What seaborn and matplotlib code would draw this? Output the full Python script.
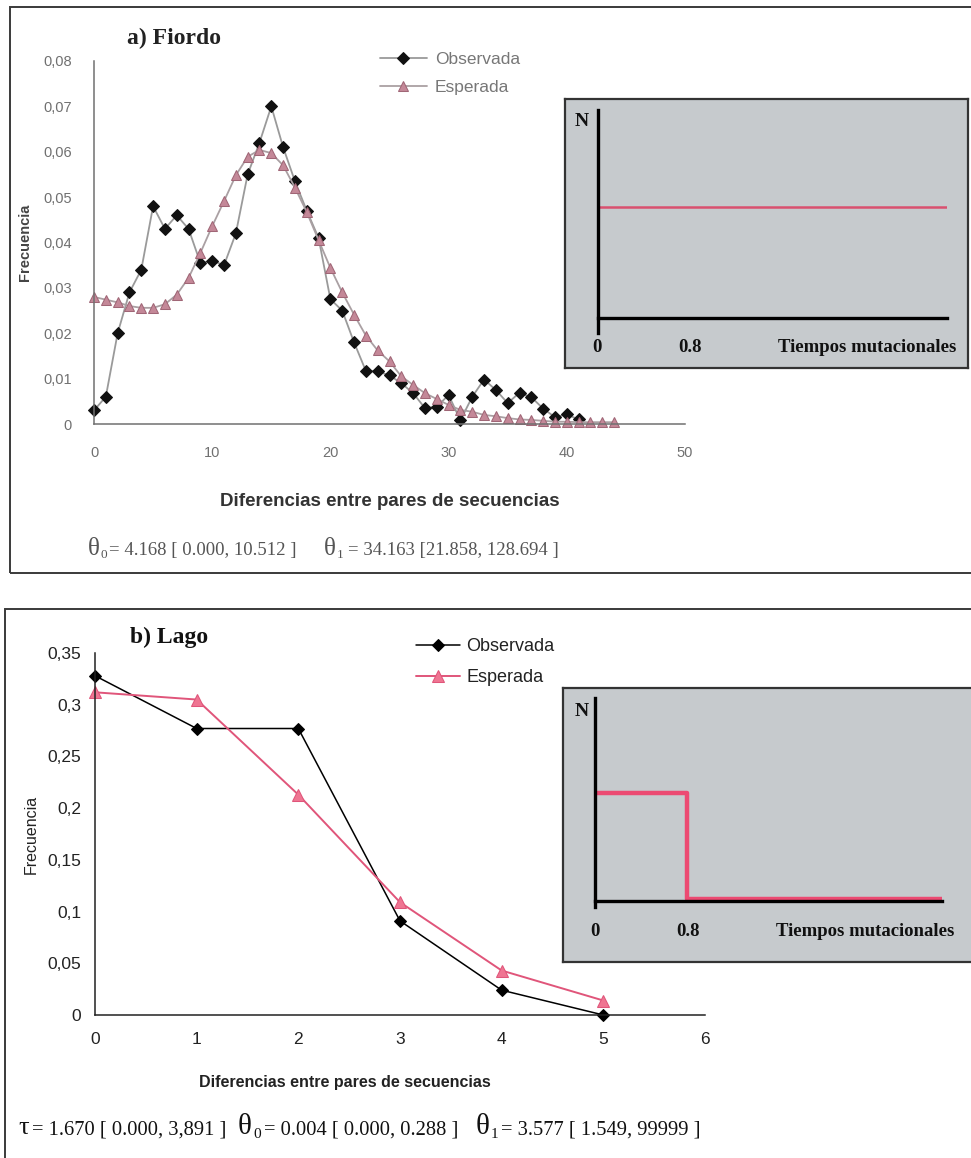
import matplotlib
matplotlib.use("Agg")
import matplotlib.pyplot as plt
from matplotlib.patches import Rectangle
import pandas as pd
import seaborn as sns

# ---- a) Fiordo: mismatch distribution ----
fiordo_obs_x = list(range(0, 42))
fiordo_obs = [0.003, 0.006, 0.020, 0.029, 0.034, 0.048, 0.043, 0.046, 0.043, 0.0355,
              0.036, 0.035, 0.042, 0.055, 0.062, 0.070, 0.061, 0.0535, 0.047, 0.041,
              0.0275, 0.025, 0.018, 0.0117, 0.0116, 0.0107, 0.009, 0.0068, 0.0035, 0.0038,
              0.0064, 0.0008, 0.006, 0.0098, 0.0075, 0.0046, 0.0069, 0.0059, 0.0034, 0.0015,
              0.0021, 0.001]
fiordo_esp_x = list(range(0, 45))
fiordo_esp = [0.028, 0.0274, 0.0268, 0.026, 0.0256, 0.0256, 0.0264, 0.0285, 0.0322, 0.0377,
              0.0436, 0.0491, 0.0548, 0.0589, 0.0604, 0.0597, 0.057, 0.0521, 0.0467, 0.0405,
              0.0344, 0.029, 0.0241, 0.0195, 0.0162, 0.0138, 0.0105, 0.0086, 0.0068, 0.0055,
              0.0042, 0.0031, 0.0027, 0.002, 0.0017, 0.0013, 0.001, 0.0009, 0.0007, 0.0005,
              0.0005, 0.0004, 0.0004, 0.0004, 0.0004]
fiordo_xticks = [0, 10, 20, 30, 40, 50]
fiordo_yticks = [0, 0.01, 0.02, 0.03, 0.04, 0.05, 0.06, 0.07, 0.08]
fiordo_ylabels = ["0", "0,01", "0,02", "0,03", "0,04", "0,05", "0,06", "0,07", "0,08"]
# inset: population size vs mutational time
fiordo_t = [0, 3.03]
fiordo_N = [0.535, 0.535]

# ---- b) Lago ----
lago_x = [0, 1, 2, 3, 4, 5]
lago_obs = [0.328, 0.277, 0.277, 0.091, 0.024, 0.0]
lago_esp = [0.312, 0.305, 0.213, 0.109, 0.043, 0.014]
lago_xticks = [0, 1, 2, 3, 4, 5, 6]
lago_yticks = [0, 0.05, 0.1, 0.15, 0.2, 0.25, 0.3, 0.35]
lago_ylabels = ["0", "0,05", "0,1", "0,15", "0,2", "0,25", "0,3", "0,35"]
lago_t = [0, 0.8, 0.8, 3.03]
lago_N = [0.53, 0.53, 0.008, 0.008]

W, H = 971, 1158
sns.set_style("white")
plt.rcParams['font.family'] = ['Liberation Sans', 'DejaVu Sans']
SERIF = ['Liberation Serif', 'DejaVu Serif']

fig = plt.figure(figsize=(W / 100, H / 100), dpi=100)


def box(x0, y0, x1, y1):
    # pixel box (top-left origin) -> figure fraction rect
    return [x0 / W, 1 - y1 / H, (x1 - x0) / W, (y1 - y0) / H]


def ftext(x, y, s, **kw):
    return fig.text(x / W, 1 - y / H, s, **kw)


# panel frames
for x0, y0, x1, y1 in [(10, 7, 990, 573), (5, 609, 990, 1200)]:
    fig.patches.append(Rectangle((x0 / W, 1 - y1 / H), (x1 - x0) / W, (y1 - y0) / H,
                                 transform=fig.transFigure, fill=False,
                                 ec='#3a3a3a', lw=1.4))


def style_axes(ax, col, size, ypad, xpad):
    for sp in ['top', 'right']:
        ax.spines[sp].set_visible(False)
    for sp in ['left', 'bottom']:
        ax.spines[sp].set_color(col)
        ax.spines[sp].set_linewidth(1.1)
    ax.tick_params(direction='out', length=4, width=1, color=col,
                   labelcolor=col, labelsize=size)
    ax.tick_params(axis='y', pad=ypad)
    ax.tick_params(axis='x', pad=xpad)


# ---------------- a) Fiordo ----------------
ax1 = fig.add_axes(box(94, 61, 685, 424))
df_o = pd.DataFrame({'x': fiordo_obs_x, 'y': fiordo_obs})
df_e = pd.DataFrame({'x': fiordo_esp_x, 'y': fiordo_esp})
sns.lineplot(data=df_o, x='x', y='y', ax=ax1, color='#9a9a9a', lw=1.3,
             marker='D', markersize=6.5, markerfacecolor='#111111',
             markeredgecolor='#111111', label='Observada', clip_on=False)
sns.lineplot(data=df_e, x='x', y='y', ax=ax1, color='#aaa0a3', lw=1.3,
             marker='^', markersize=7, markerfacecolor='#c48898',
             markeredgecolor='#a06676', label='Esperada', clip_on=False)
ax1.set_xlim(0, 50)
ax1.set_ylim(0, 0.08)
ax1.set_xticks(fiordo_xticks)
ax1.set_yticks(fiordo_yticks)
ax1.set_yticklabels(fiordo_ylabels)
style_axes(ax1, '#707070', 10.5, 12, 12)
ax1.set_xlabel('Diferencias entre pares de secuencias', fontsize=13.5,
               fontweight='bold', color='#333333')
ax1.xaxis.set_label_coords(0.5, -0.19)
ax1.set_ylabel('Frecuencia', fontsize=10.5, fontweight='bold', color='#444444')
ax1.yaxis.set_label_coords(-0.105, 0.5)
ax1.legend(loc='upper left', bbox_to_anchor=(380 / W, 1 - 52 / H),
           bbox_transform=fig.transFigure, frameon=False, fontsize=12.5,
           handlelength=2.7, handletextpad=0.45, labelspacing=0.72,
           borderpad=0, borderaxespad=0, labelcolor='#777777')
ftext(127, 38, 'a) Fiordo', fontsize=17, fontweight='bold', family=SERIF,
      va='center', color='#222222')

# ---------------- b) Lago ----------------
ax2 = fig.add_axes(box(95, 653, 705, 1015))
df_lo = pd.DataFrame({'x': lago_x, 'y': lago_obs})
df_le = pd.DataFrame({'x': lago_x, 'y': lago_esp})
sns.lineplot(data=df_lo, x='x', y='y', ax=ax2, color='black', lw=1.1,
             marker='D', markersize=6.5, markerfacecolor='black',
             markeredgecolor='black', label='Observada', clip_on=False)
sns.lineplot(data=df_le, x='x', y='y', ax=ax2, color='#e0557a', lw=1.4,
             marker='^', markersize=9, markerfacecolor='#ef7592',
             markeredgecolor='#e0557a', label='Esperada', clip_on=False)
ax2.set_xlim(0, 6)
ax2.set_ylim(0, 0.35)
ax2.set_xticks(lago_xticks)
ax2.set_yticks(lago_yticks)
ax2.set_yticklabels(lago_ylabels)
style_axes(ax2, '#222222', 12.5, 6, 8)
ax2.set_xlabel('Diferencias entre pares de secuencias', fontsize=11.5,
               fontweight='bold', color='#222222')
ax2.xaxis.set_label_coords(0.41, -0.165)
ax2.set_ylabel('Frecuencia', fontsize=11.5, color='#222222')
ax2.yaxis.set_label_coords(-0.093, 0.5)
ax2.legend(loc='upper left', bbox_to_anchor=(416 / W, 1 - 638 / H),
           bbox_transform=fig.transFigure, frameon=False, fontsize=13,
           handlelength=2.45, handletextpad=0.35, labelspacing=0.8,
           borderpad=0, borderaxespad=0, labelcolor='#222222')
ftext(130, 637, 'b) Lago', fontsize=17, fontweight='bold', family=SERIF,
      va='center', color='#111111')


# ---------------- insets (N vs tiempos mutacionales) ----------------
def inset(outer, inner, ylo, t, N, red, lw, y_lab, n_pos, x0_px, x08_px, tm_px):
    bg = fig.add_axes(box(*outer))
    bg.set_facecolor('#c6cacd')
    bg.set_xticks([])
    bg.set_yticks([])
    for sp in bg.spines.values():
        sp.set_color('#333333')
        sp.set_linewidth(1.6)
    ia = fig.add_axes(box(*inner))
    ia.patch.set_alpha(0)
    sns.lineplot(x=t, y=N, ax=ia, color=red, lw=lw, estimator=None, sort=False)
    ia.set_xlim(0, 3.03)
    ia.set_ylim(ylo, 1)
    for sp in ['top', 'right']:
        ia.spines[sp].set_visible(False)
    ia.spines['bottom'].set_position(('data', 0))
    for sp in ['left', 'bottom']:
        ia.spines[sp].set_color('black')
        ia.spines[sp].set_linewidth(2.4)
    ia.set_xticks([0.8])
    ia.set_xticklabels([])
    ia.set_yticks([])
    ia.tick_params(axis='x', length=10, width=2, direction='out', color='black')
    ia.set_xlabel('')
    ia.set_ylabel('')
    kw = dict(fontweight='bold', family=SERIF, va='center', ha='center',
              color='#111111')
    ftext(n_pos[0], n_pos[1], 'N', fontsize=14, **kw)
    ftext(x0_px, y_lab, '0', fontsize=13.5, **kw)
    ftext(x08_px, y_lab, '0.8', fontsize=13.5, **kw)
    ftext(tm_px, y_lab, 'Tiempos mutacionales', fontsize=13.5, **kw)


inset((565, 99, 968, 368), (598, 110, 947, 333), -0.07, fiordo_t, fiordo_N,
      '#d9506f', 1.8, 348, (582, 122), 597, 690, 867)
inset((563, 688, 990, 962), (595, 698, 942, 907), -0.03, lago_t, lago_N,
      '#ec4a72', 3.2, 932, (582, 712), 595, 688, 865)


# ---------------- parameter estimates ----------------
def chain(x, y, pieces, color):
    r = fig.canvas.get_renderer()
    for s, size, dy, gap in pieces:
        t = ftext(x, y + dy, s, fontsize=size, family=SERIF, va='baseline',
                  color=color)
        x += t.get_window_extent(r).width + gap


chain(88, 555, [("θ", 18, 0, 1), ("0", 9.5, 3, 1),
                ("= 4.168 [ 0.000, 10.512 ]", 13.5, 0, 28),
                ("θ", 18, 0, 1), ("1", 9.5, 3, 4),
                ("= 34.163 [21.858, 128.694 ]", 13.5, 0, 0)], '#555555')
chain(18, 1134, [("τ", 19, 0, 3), ("= 1.670 [ 0.000, 3,891 ]", 14.8, 0, 12),
                 ("θ", 21, 0, 1), ("0", 11, 4, 3),
                 ("= 0.004 [ 0.000, 0.288 ]", 14.8, 0, 18),
                 ("θ", 21, 0, 1), ("1", 11, 4, 3),
                 ("= 3.577 [ 1.549, 99999 ]", 14.8, 0, 0)], '#111111')

fig.savefig('out.png', dpi=100)
